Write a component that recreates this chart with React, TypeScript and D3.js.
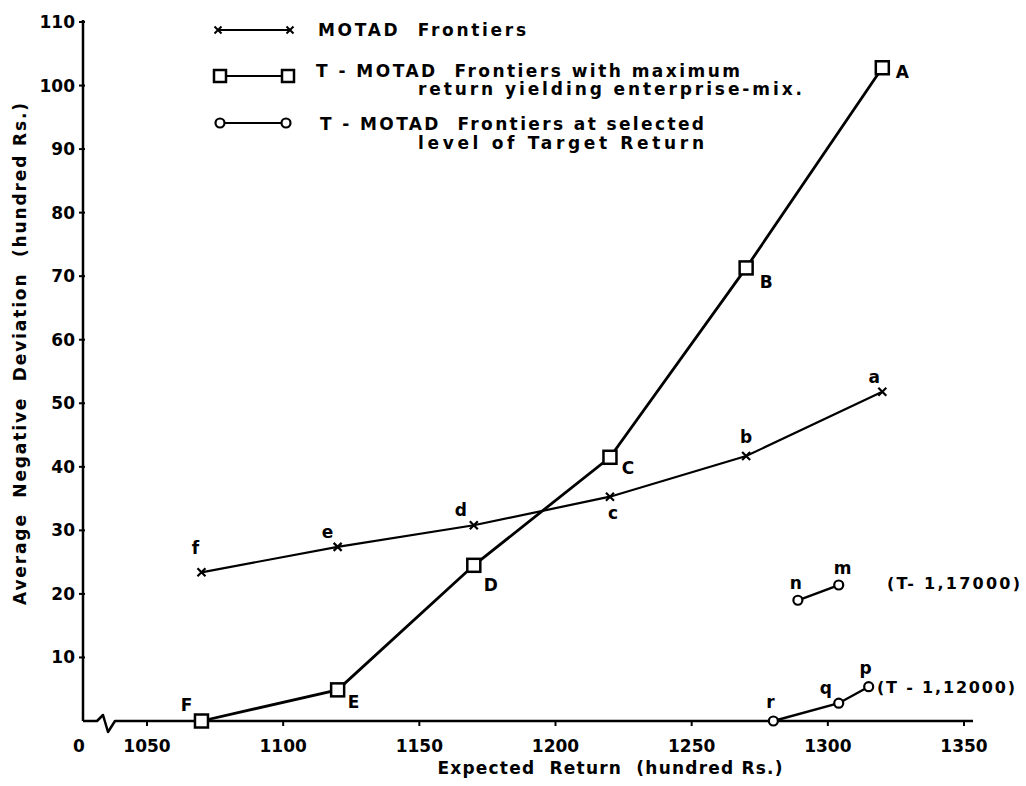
import React from "react";
import * as d3 from "d3";

// MOTAD frontiers (points f..a)
const motadReturn = [1070, 1120, 1170, 1220, 1270, 1320];
const motadDev = [23.4, 27.4, 30.8, 35.3, 41.7, 51.8];
const motadNames = ["f", "e", "d", "c", "b", "a"];

// T-MOTAD frontiers with maximum return yielding enterprise-mix (F..A)
const tmaxReturn = [1070, 1120, 1170, 1220, 1270, 1320];
const tmaxDev = [0, 4.9, 24.5, 41.5, 71.3, 102.8];
const tmaxNames = ["F", "E", "D", "C", "B", "A"];

// T-MOTAD at selected target return T = 1,17000
const t17Return = [1289, 1304];
const t17Dev = [19.0, 21.4];
const t17Names = ["n", "m"];

// T-MOTAD at selected target return T = 1,12000
const t12Return = [1280, 1304, 1315];
const t12Dev = [0, 2.8, 5.4];
const t12Names = ["r", "q", "p"];

const xTicks = [1050, 1100, 1150, 1200, 1250, 1300, 1350];
const yTicks = [10, 20, 30, 40, 50, 60, 70, 80, 90, 100, 110];

const FONT = "'DejaVu Sans', sans-serif";

// label offsets (px) from the point, by name
const labelOffset: Record<string, [number, number]> = {
  f: [-6, -24], e: [-10, -15], d: [-13, -15], c: [3, 16], b: [0, -19], a: [-8, -15],
  F: [-15, -16], E: [16, 12], D: [17, 20], C: [18, 11], B: [20, 14], A: [20, 4],
  n: [-2, -17], m: [4, -17], r: [-3, -19], q: [-13, -15], p: [-3, -19],
};

export default function App() {
  const width = 1026;
  const height = 786;
  const originX = 83;
  const axisEnd = 973;

  const x = d3.scaleLinear().domain([1050, 1350]).range([147, 964]);
  const y = d3.scaleLinear().domain([0, 110]).range([721, 22]);

  const line = d3.line<[number, number]>()
    .x(d => x(d[0]))
    .y(d => y(d[1]));

  const zip = (xs: number[], ys: number[]) => xs.map((v, i) => [v, ys[i]] as [number, number]);

  const motad = zip(motadReturn, motadDev);
  const tmax = zip(tmaxReturn, tmaxDev);
  const t17 = zip(t17Return, t17Dev);
  const t12 = zip(t12Return, t12Dev);

  const y0 = y(0);

  const cross = (cx: number, cy: number, s = 4) =>
    `M${cx - s},${cy - s}L${cx + s},${cy + s}M${cx - s},${cy + s}L${cx + s},${cy - s}`;

  const labels = (pts: [number, number][], names: string[]) =>
    pts.map((p, i) => {
      const [dx, dy] = labelOffset[names[i]];
      return (
        <text key={names[i]} x={x(p[0]) + dx} y={y(p[1]) + dy} textAnchor="middle"
          dominantBaseline="central" fontSize={17} fontWeight="bold">
          {names[i]}
        </text>
      );
    });

  const pre = { whiteSpace: "pre" as const };

  return (
    <svg width={width} height={height} style={{ position: "absolute", left: 0, top: 0, background: "#fff" }}
      fontFamily={FONT}>
      <rect width={width} height={height} fill="#fff" />

      {/* y axis */}
      <line x1={originX} x2={originX} y1={y0} y2={20} stroke="#000" strokeWidth={2.5} />
      {yTicks.map(t => (
        <g key={t}>
          <line x1={originX - 4} x2={originX + 2} y1={y(t)} y2={y(t)} stroke="#000" strokeWidth={2} />
          <text x={originX - 8} y={y(t)} textAnchor="end" dominantBaseline="central"
            fontSize={17} fontWeight="bold">{t}</text>
        </g>
      ))}

      {/* x axis with break */}
      <path d={`M${originX},${y0}L97,${y0}L103,${y0 - 6}L108,${y0 + 11}L115,${y0}L${axisEnd},${y0}`}
        fill="none" stroke="#000" strokeWidth={2.5} strokeLinejoin="round" />
      {xTicks.map(t => (
        <g key={t}>
          <line x1={x(t)} x2={x(t)} y1={y0} y2={y0 + 5} stroke="#000" strokeWidth={2} />
          <text x={x(t)} y={y0 + 25} textAnchor="middle" dominantBaseline="central"
            fontSize={17} fontWeight="bold">{t}</text>
        </g>
      ))}
      <text x={79} y={y0 + 25} textAnchor="middle" dominantBaseline="central" fontSize={17} fontWeight="bold">0</text>

      {/* axis titles */}
      <text x={610} y={768} textAnchor="middle" dominantBaseline="central" fontSize={17}
        fontWeight="bold" textLength={345} lengthAdjust="spacing" style={pre}>
        {"Expected  Return  (hundred Rs.)"}
      </text>
      <text transform={`translate(20,354) rotate(-90)`} textAnchor="middle" dominantBaseline="central"
        fontSize={17} fontWeight="bold" textLength={502} lengthAdjust="spacing" style={pre}>
        {"Average  Negative  Deviation  (hundred Rs.)"}
      </text>

      {/* MOTAD frontier */}
      <path d={line(motad) || ""} fill="none" stroke="#000" strokeWidth={2.2} />
      {motad.map((p, i) => (
        <path key={i} d={cross(x(p[0]), y(p[1]))} stroke="#000" strokeWidth={2.2} />
      ))}
      {labels(motad, motadNames)}

      {/* T-MOTAD max return frontier */}
      <path d={line(tmax) || ""} fill="none" stroke="#000" strokeWidth={2.8} />
      {tmax.map((p, i) => (
        <rect key={i} x={x(p[0]) - 6.5} y={y(p[1]) - 6.5} width={13} height={13}
          fill="#fff" stroke="#000" strokeWidth={2.5} />
      ))}
      {labels(tmax, tmaxNames)}

      {/* T-MOTAD target return frontiers */}
      {[t17, t12].map((pts, k) => (
        <g key={k}>
          <path d={line(pts) || ""} fill="none" stroke="#000" strokeWidth={2.4} />
          {pts.map((p, i) => (
            <circle key={i} cx={x(p[0])} cy={y(p[1])} r={4.5} fill="#fff" stroke="#000" strokeWidth={2.2} />
          ))}
        </g>
      ))}
      {labels(t17, t17Names)}
      {labels(t12, t12Names)}
      <text x={887} y={583} dominantBaseline="central" fontSize={16} fontWeight="bold"
        textLength={133} lengthAdjust="spacing" style={pre}>{"(T- 1,17000)"}</text>
      <text x={877} y={687} dominantBaseline="central" fontSize={16} fontWeight="bold"
        textLength={138} lengthAdjust="spacing" style={pre}>{"(T - 1,12000)"}</text>

      {/* legend */}
      <g fontSize={17} fontWeight="bold">
        <line x1={218} x2={290} y1={30} y2={30} stroke="#000" strokeWidth={2} />
        <path d={cross(218, 30, 3.5) + cross(290, 30, 3.5)} stroke="#000" strokeWidth={2} />
        <text x={318} y={30} dominantBaseline="central" textLength={208} lengthAdjust="spacing" style={pre}>
          {"MOTAD  Frontiers"}
        </text>

        <line x1={220} x2={288} y1={76} y2={76} stroke="#000" strokeWidth={2} />
        <rect x={214} y={70} width={12} height={12} fill="#fff" stroke="#000" strokeWidth={2.5} />
        <rect x={282} y={70} width={12} height={12} fill="#fff" stroke="#000" strokeWidth={2.5} />
        <text x={316} y={71} dominantBaseline="central" textLength={424} lengthAdjust="spacing" style={pre}>
          {"T - MOTAD  Frontiers with maximum"}
        </text>
        <text x={418} y={89} dominantBaseline="central" textLength={384} lengthAdjust="spacing" style={pre}>
          {"return yielding enterprise-mix."}
        </text>

        <line x1={220} x2={286} y1={123} y2={123} stroke="#000" strokeWidth={2} />
        <circle cx={220} cy={123} r={4.5} fill="#fff" stroke="#000" strokeWidth={2.2} />
        <circle cx={286} cy={123} r={4.5} fill="#fff" stroke="#000" strokeWidth={2.2} />
        <text x={320} y={124} dominantBaseline="central" textLength={384} lengthAdjust="spacing" style={pre}>
          {"T - MOTAD  Frontiers at selected"}
        </text>
        <text x={418} y={143} dominantBaseline="central" textLength={286} lengthAdjust="spacing" style={pre}>
          {"level of Target Return"}
        </text>
      </g>
    </svg>
  );
}
